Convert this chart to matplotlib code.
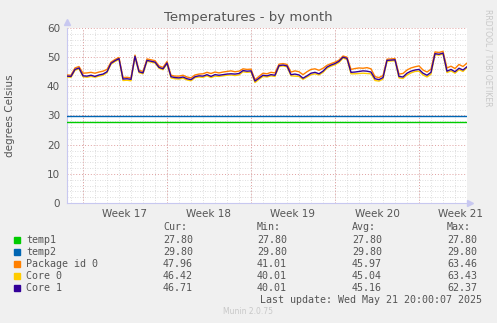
import numpy as np
import matplotlib.pyplot as plt

# samples every 8 hours over the last 33 days
temp1 = [27.8] * 101
temp2 = [29.8] * 101

core1 = [43.5, 43.4, 45.8, 46.3, 43.6, 43.5, 43.8, 43.4, 43.9, 44.2,
         45.0, 47.9, 48.8, 49.5, 42.5, 42.6, 42.4, 50.3, 45.0, 44.6,
         48.9, 48.6, 48.3, 46.5, 46.0, 48.0, 43.3, 43.0, 42.9, 43.2,
         42.6, 42.3, 43.3, 43.6, 43.5, 44.0, 43.4, 44.0, 43.8, 44.0,
         44.2, 44.3, 44.2, 44.4, 45.4, 45.2, 45.3, 41.8, 42.8, 43.8,
         43.6, 44.0, 43.8, 47.1, 47.3, 47.0, 44.0, 44.2, 43.9, 42.8,
         43.6, 44.5, 44.8, 44.3, 45.2, 46.6, 47.3, 47.8, 48.6, 50.0,
         49.6, 44.8, 44.9, 45.1, 45.3, 45.2, 44.9, 42.6, 42.3, 43.0,
         48.9, 49.0, 49.1, 43.4, 43.2, 44.5, 45.2, 45.6, 45.8, 44.5,
         43.8, 44.8, 51.2, 51.0, 51.4, 45.2, 45.8, 45.0, 46.2, 45.6,
         46.71]

package = [43.9, 43.8, 46.3, 46.8, 44.5, 44.6, 44.8, 44.5, 44.9, 45.2,
           45.8, 48.3, 49.2, 49.9, 43.0, 43.1, 42.9, 50.7, 45.5, 45.1,
           49.4, 49.1, 48.8, 47.0, 46.5, 48.5, 43.8, 43.5, 43.5, 43.8,
           43.2, 42.9, 43.9, 44.2, 44.3, 44.8, 44.4, 44.9, 44.6, 44.9,
           45.1, 45.3, 45.0, 45.2, 46.0, 45.8, 45.9, 42.3, 43.4, 44.5,
           44.3, 44.8, 44.6, 47.6, 47.8, 47.5, 44.9, 45.3, 45.0, 44.0,
           45.0, 45.8, 46.0, 45.5, 46.2, 47.2, 47.8, 48.3, 49.0, 50.4,
           50.0, 45.8, 46.1, 46.3, 46.2, 46.4, 46.0, 43.3, 43.0, 43.7,
           49.3, 49.4, 49.5, 44.2, 44.4, 45.6, 46.3, 46.7, 47.0, 45.6,
           44.9, 45.9, 51.8, 51.6, 52.0, 46.3, 46.9, 46.1, 47.5, 46.8,
           47.96]

core0 = [43.2, 43.1, 45.5, 46.0, 43.3, 43.1, 43.4, 43.1, 43.5, 43.8,
         44.7, 47.6, 48.5, 49.2, 42.0, 42.1, 41.9, 50.0, 44.7, 44.3,
         48.6, 48.3, 48.0, 46.2, 45.7, 47.7, 42.9, 42.6, 42.5, 42.8,
         42.2, 41.9, 43.0, 43.2, 43.1, 43.6, 43.0, 43.5, 43.4, 43.6,
         43.8, 43.9, 43.7, 43.9, 45.0, 44.8, 44.9, 41.3, 42.4, 43.4,
         43.2, 43.6, 43.4, 46.8, 47.0, 46.7, 43.6, 43.5, 43.4, 42.4,
         43.2, 44.0, 44.3, 43.9, 44.8, 46.2, 46.9, 47.4, 48.2, 49.7,
         49.2, 44.3, 44.3, 44.4, 44.5, 44.4, 44.3, 42.0, 41.8, 42.5,
         48.6, 48.7, 48.8, 42.9, 42.7, 43.9, 44.6, 45.1, 45.2, 43.9,
         43.2, 44.2, 50.9, 50.7, 51.1, 44.7, 45.3, 44.5, 45.7, 45.1,
         46.42]

names = ['temp1', 'temp2', 'Package id 0', 'Core 0', 'Core 1']
colors = ['#00CC00', '#0066B3', '#FF8000', '#FFCC00', '#330099']
cur = ['27.80', '29.80', '47.96', '46.42', '46.71']
mins = ['27.80', '29.80', '41.01', '40.01', '40.01']
avgs = ['27.80', '29.80', '45.97', '45.04', '45.16']
maxs = ['27.80', '29.80', '63.46', '63.43', '62.37']
week_labels = ['Week 17', 'Week 18', 'Week 19', 'Week 20', 'Week 21']

t = np.arange(101) / 3.0
series = [temp1, temp2, package, core0, core1]

W, H = 497, 323
fig = plt.figure(figsize=(W / 100, H / 100), dpi=100, facecolor='#F0F0F0')
ax = fig.add_axes([67 / W, (H - 203) / H, 400 / W, 175 / H])
ax.set_facecolor('white')

x_end = 400 / 12.0
ax.set_xlim(0, x_end)
ax.set_ylim(0, 60)

# minor grid: every day and every 2 degrees
for d in np.arange(1 / 3, x_end, 1.0):
    ax.axvline(d, color='#d4d4d4', lw=0.6, ls=(0, (1, 2)), zorder=1)
for v in range(2, 60, 2):
    if v % 10:
        ax.axhline(v, color='#d4d4d4', lw=0.6, ls=(0, (1, 2)), zorder=1)
# major grid: weeks and every 10 degrees
for d in np.arange(4 / 3, x_end, 7.0):
    ax.axvline(d, color='#e0a0a0', lw=0.7, ls=(0, (1, 2)), zorder=1)
for v in range(10, 61, 10):
    ax.axhline(v, color='#e0a0a0', lw=0.7, ls=(0, (1, 2)), zorder=1)

for s, c in zip(series, colors):
    ax.plot(t, s, color=c, lw=1.0, zorder=3)

for sp in ['top', 'right']:
    ax.spines[sp].set_visible(False)
for sp in ['left', 'bottom']:
    ax.spines[sp].set_color('#c8c8f0')
    ax.spines[sp].set_linewidth(0.8)
ax.plot([0], [1.035], marker='^', color='#c8c8f0', ms=4, transform=ax.transAxes, clip_on=False)
ax.plot([1.008], [0], marker='>', color='#c8c8f0', ms=4, transform=ax.transAxes, clip_on=False)

ax.set_yticks(range(0, 61, 10))
ax.set_xticks(np.arange(29 / 6, x_end, 7.0))
ax.set_xticklabels(week_labels)
ax.tick_params(length=0, labelsize=7.5, labelcolor='#555555', pad=4)
ax.tick_params(axis='y', pad=5)

fig.text(248 / W, 1 - 18 / H, 'Temperatures - by month', ha='center', va='center',
         fontsize=9.5, color='#555555')
fig.text(10 / W, 1 - 116 / H, 'degrees Celsius', rotation=90, ha='center', va='center',
         fontsize=7.5, color='#555555')
fig.text(488 / W, 1 - 58 / H, 'RRDTOOL / TOBI OETIKER', rotation=270, ha='center', va='center',
         fontsize=5.5, color='#c8c8c8')

# legend table
mono = dict(family='DejaVu Sans Mono', fontsize=7.2, color='#555555', va='center')
cols = [163, 257, 352, 447]
for x, head in zip(cols, ['Cur:', 'Min:', 'Avg:', 'Max:']):
    fig.text(x / W, 1 - 227 / H, head, **mono)
for i in range(5):
    y = 1 - (240 + 12 * i) / H
    fig.patches.append(plt.Rectangle((14 / W, y - 3 / H), 6 / W, 6 / H,
                                     color=colors[i], transform=fig.transFigure))
    fig.text(26.5 / W, y, names[i], **mono)
    for x, val in zip(cols, [cur[i], mins[i], avgs[i], maxs[i]]):
        fig.text(x / W, y, val, **mono)
fig.text(482 / W, 1 - 300 / H, 'Last update: Wed May 21 20:00:07 2025', ha='right', **mono)
fig.text(248 / W, 1 - 312 / H, 'Munin 2.0.75', ha='center', va='center',
         fontsize=5.5, color='#c8c8c8')

fig.savefig('out.png', dpi=100, facecolor=fig.get_facecolor())
